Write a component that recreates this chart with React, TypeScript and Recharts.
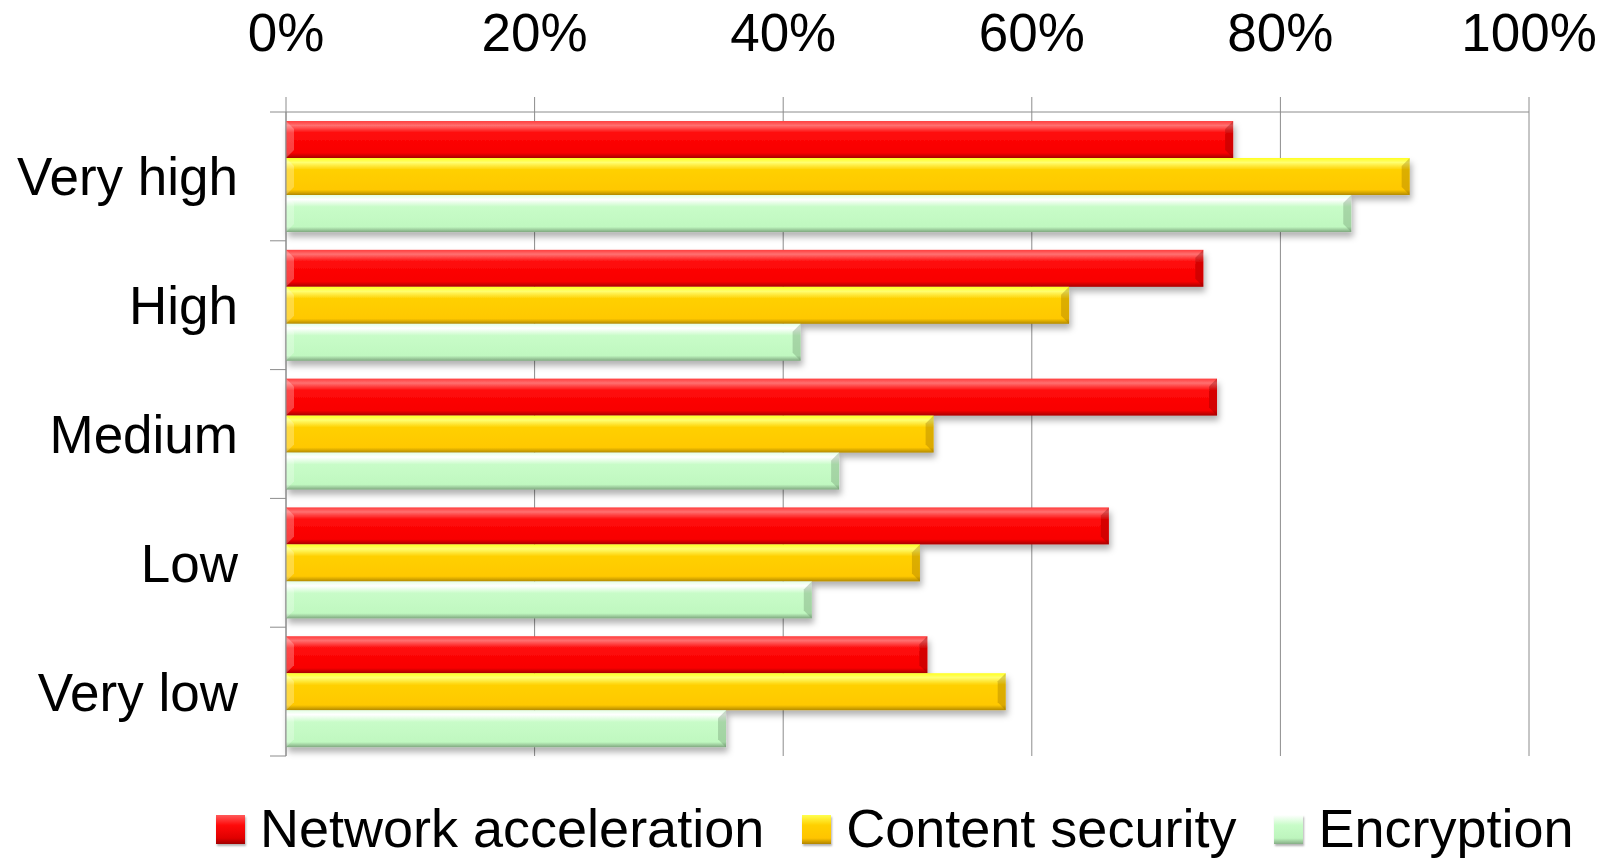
import React from 'react'
import { BarChart, Bar, XAxis, YAxis, CartesianGrid, Legend } from 'recharts'

const categories = ['Very high', 'High', 'Medium', 'Low', 'Very low']
const networkAcceleration = [0.762, 0.738, 0.749, 0.662, 0.516]
const contentSecurity = [0.904, 0.63, 0.521, 0.51, 0.579]
const encryption = [0.857, 0.414, 0.445, 0.423, 0.354]
const xTicks = [0, 0.2, 0.4, 0.6, 0.8, 1]
const seriesNames = ['Network acceleration', 'Content security', 'Encryption']

const data = categories.map((name, i) => ({
  name,
  net: networkAcceleration[i],
  sec: contentSecurity[i],
  enc: encryption[i],
}))

const FONT = '"Liberation Sans", Arial, sans-serif'
const GRID = '#8c8c8c'
const W = 1606
const H = 858
const AXIS_X = 286
const PLOT_TOP = 112
const PLOT_BOTTOM = 756
const BAND = (PLOT_BOTTOM - PLOT_TOP) / categories.length

const series = [
  { key: 'net', gid: 'gRed', edge: '#7a0000', stops: ['#ff3c3c', '#ff7070', '#ff0a0a', '#f80000', '#a80000'], icon: 'linear-gradient(#ff5a5a, #ff0a0a 35%, #e00000 80%, #a00000)' },
  { key: 'sec', gid: 'gYel', edge: '#8a6400', stops: ['#ffff20', '#ffff70', '#ffd000', '#ffc800', '#b38a00'], icon: 'linear-gradient(#ffff50, #ffd000 35%, #ffc400 80%, #b08400)' },
  { key: 'enc', gid: 'gGrn', edge: '#5c805c', stops: ['#e4ffe4', '#ffffff', '#c8fcc8', '#c0f8c0', '#80a880'], icon: 'linear-gradient(#ffffff, #c8fcc8 35%, #bdf5bd 80%, #86ad86)' },
]

function BevelBar(props: any) {
  const { x, y, width, height, gid, edge } = props
  if (!width || width <= 0) return null
  const b = Math.min(8, height / 4, width / 2)
  return (
    <g filter="url(#barShadow)">
      <rect x={x} y={y} width={width} height={height} fill={`url(#${gid})`} />
      <polygon
        points={`${x + width - b},${y + b} ${x + width},${y} ${x + width},${y + height} ${x + width - b},${y + height - b}`}
        fill={edge}
        opacity={0.3}
      />
      <polygon
        points={`${x},${y} ${x + b},${y + b} ${x + b},${y + height - b} ${x},${y + height}`}
        fill="#ffffff"
        opacity={0.25}
      />
    </g>
  )
}

function CategoryTick(props: any) {
  const { y, payload, index } = props
  const half = BAND / 2
  return (
    <g>
      <line x1={AXIS_X - 16} x2={AXIS_X} y1={y - half} y2={y - half} stroke={GRID} />
      {index === categories.length - 1 && (
        <line x1={AXIS_X - 16} x2={AXIS_X} y1={y + half} y2={y + half} stroke={GRID} />
      )}
      <text x={AXIS_X - 48} y={y} dy="0.36em" textAnchor="end" fill="#000" fontSize={53} fontFamily={FONT}>
        {payload.value}
      </text>
    </g>
  )
}

function LegendContent() {
  return (
    <div style={{ display: 'flex', alignItems: 'center', height: 60, paddingLeft: 216, fontFamily: FONT, fontSize: 54, lineHeight: '60px', color: '#000' }}>
      {series.map((s, i) => (
        <div key={s.key} style={{ display: 'flex', alignItems: 'center', marginRight: 38 }}>
          <div style={{ width: 29, height: 29, background: s.icon, boxShadow: '1px 2px 2px rgba(0,0,0,0.3)', marginRight: 15, marginTop: 2 }} />
          <span style={{ whiteSpace: 'nowrap' }}>{seriesNames[i]}</span>
        </div>
      ))}
    </div>
  )
}

export default function App() {
  return (
    <div style={{ position: 'absolute', left: 0, top: 0, width: W, height: H, background: '#fff' }}>
      <BarChart
        width={W}
        height={H}
        data={data}
        layout="vertical"
        margin={{ top: 0, right: 77, bottom: 42, left: 0 }}
        barCategoryGap="7%"
        barGap={0}
      >
        <defs>
          {series.map(s => (
            <linearGradient key={s.gid} id={s.gid} x1="0" y1="0" x2="0" y2="1">
              <stop offset="0%" stopColor={s.stops[0]} />
              <stop offset="12%" stopColor={s.stops[1]} />
              <stop offset="32%" stopColor={s.stops[2]} />
              <stop offset="86%" stopColor={s.stops[3]} />
              <stop offset="100%" stopColor={s.stops[4]} />
            </linearGradient>
          ))}
          <filter id="barShadow" x="-5%" y="-30%" width="110%" height="170%">
            <feDropShadow dx="2" dy="5" stdDeviation="3" floodColor="#000" floodOpacity="0.3" />
          </filter>
        </defs>
        <CartesianGrid horizontal={false} stroke={GRID} />
        <XAxis
          type="number"
          orientation="top"
          domain={[0, 1]}
          ticks={xTicks}
          interval={0}
          height={112}
          tickFormatter={(v: number) => Math.round(v * 100) + '%'}
          axisLine={{ stroke: GRID }}
          tickLine={{ stroke: GRID }}
          tickSize={15}
          tickMargin={46}
          tick={{ fill: '#000', fontSize: 53, fontFamily: FONT }}
        />
        <YAxis
          type="category"
          dataKey="name"
          width={286}
          interval={0}
          axisLine={{ stroke: GRID }}
          tickLine={false}
          tick={<CategoryTick />}
        />
        <Legend verticalAlign="bottom" wrapperStyle={{ left: 0, bottom: 0, width: W, height: 60 }} content={<LegendContent />} />
        {series.map((s, i) => (
          <Bar
            key={s.key}
            dataKey={s.key}
            name={seriesNames[i]}
            isAnimationActive={false}
            shape={(p: any) => <BevelBar {...p} gid={s.gid} edge={s.edge} />}
          />
        ))}
      </BarChart>
    </div>
  )
}
